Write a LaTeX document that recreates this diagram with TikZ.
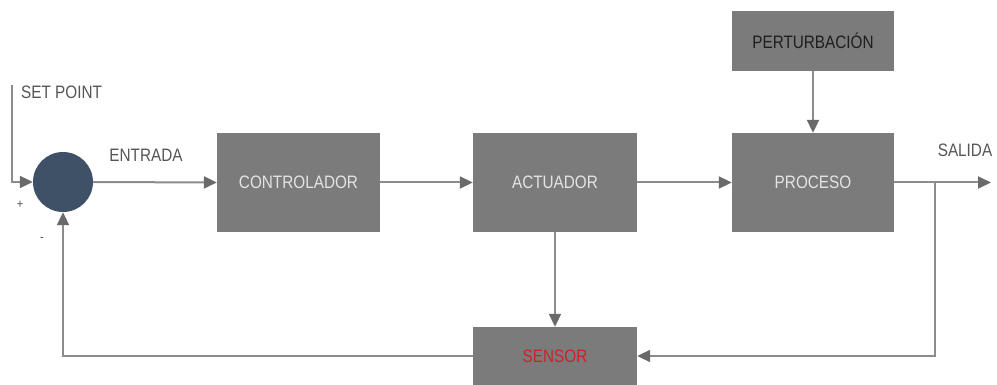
\documentclass[tikz,border=0pt]{standalone}
\usepackage{fontspec}
\setmainfont[FakeStretch=0.85]{Liberation Sans}
\usetikzlibrary{arrows.meta}

\definecolor{boxgray}{HTML}{7B7B7B}
\definecolor{linegray}{HTML}{8C8C8C}
\definecolor{tipgray}{HTML}{6A6A6A}
\definecolor{sumblue}{HTML}{3E5166}
\definecolor{boxtext}{HTML}{E4E4E4}
\definecolor{labeltext}{HTML}{555555}
\definecolor{darktext}{HTML}{1E1E1E}
\definecolor{sensorred}{HTML}{D0202A}

\tikzset{
  block/.style={rectangle, fill=boxgray, draw=none, inner sep=0pt,
    minimum width=163pt, minimum height=99pt, text=boxtext,
    font=\fontsize{18}{21}\selectfont},
  sumnode/.style={circle, fill=sumblue, draw=none, minimum size=60pt, inner sep=0pt},
  lbl/.style={text=labeltext, font=\fontsize{18}{21}\selectfont, inner sep=0pt},
  conn/.style={draw=linegray, line width=2pt,
    -{Triangle[length=13pt, width=12pt, color=tipgray]}}
}

\begin{document}
\begin{tikzpicture}[x=1pt, y=-1pt]
  \useasboundingbox (0,0) rectangle (997,385);

  % summing junction and blocks
  \node[sumnode] (sum) at (63,182) {};
  \node[block] (ctrl) at (298.5,182.5) {CONTROLADOR};
  \node[block, minimum width=164pt] (act) at (555,182.5) {ACTUADOR};
  \node[block, minimum width=162pt] (proc) at (813,182.5) {PROCESO};
  \node[block, minimum width=162pt, minimum height=60pt, text=darktext] (pert) at (813,41) {PERTURBACIÓN};
  \node[block, minimum width=164pt, minimum height=58pt, text=sensorred] (sens) at (555,356) {SENSOR};

  % free ends
  \coordinate (sp) at (12,85);
  \coordinate (out) at (991,182.5);
  \coordinate (tap) at (935,182.5);

  % labels
  \node[lbl, anchor=west] (lsp) at (21,92) {SET POINT};
  \node[lbl] (lin) at (146,155) {ENTRADA};
  \node[lbl] (lout) at (965,150) {SALIDA};
  \node[lbl, font=\fontsize{13}{15}\selectfont] (lplus) at (20,205) {+};
  \node[lbl, font=\fontsize{13}{15}\selectfont] (lminus) at (42,240) {-};

  % forward path
  \draw[conn] (sp) |- (sum.west);
  \draw[conn] (sum.east) -- (ctrl.west);
  \draw[conn] (ctrl.east) -- (act.west);
  \draw[conn] (act.east) -- (proc.west);
  \draw[conn] (pert.south) -- (proc.north);
  \draw[conn] (proc.east) -- (out);

  % feedback path
  \draw[conn] (act.south) -- (sens.north);
  \draw[conn] (tap) |- (sens.east);
  \draw[conn] (sens.west) -| (sum.south);
\end{tikzpicture}
\end{document}
